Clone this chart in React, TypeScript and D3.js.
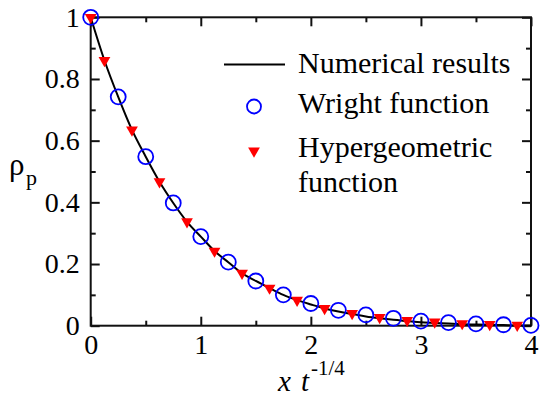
import React, { useEffect, useRef } from 'react';
import * as d3 from 'd3';

// numerical results (black line)
const lineX = [0, 0.125, 0.25, 0.375, 0.5, 0.625, 0.75, 0.875, 1, 1.125, 1.25, 1.375, 1.5, 1.625, 1.75, 1.875, 2,
  2.125, 2.25, 2.375, 2.5, 2.625, 2.75, 2.875, 3, 3.125, 3.25, 3.375, 3.5, 3.625, 3.75, 3.875, 4];
const lineY = [1.0, 0.86, 0.742, 0.635, 0.548, 0.467, 0.398, 0.337, 0.289, 0.242, 0.206, 0.17, 0.145, 0.122, 0.1,
  0.083, 0.069, 0.056, 0.046, 0.038, 0.03, 0.024, 0.019, 0.015, 0.011, 0.009, 0.007, 0.005, 0.004, 0.003, 0.002, 0.001, 0.001];

// Wright function (blue circles)
const wrightX = [0, 0.25, 0.5, 0.75, 1, 1.25, 1.5, 1.75, 2, 2.25, 2.5, 2.75, 3, 3.25, 3.5, 3.75, 4];
const wrightY = [1.0, 0.742, 0.548, 0.398, 0.289, 0.206, 0.145, 0.1, 0.072, 0.05, 0.035, 0.024, 0.015, 0.01, 0.006, 0.003, 0.001];

// Hypergeometric function (red triangles)
const hyperX = [0, 0.125, 0.375, 0.625, 0.875, 1.125, 1.375, 1.625, 1.875, 2.125, 2.375, 2.625, 2.875, 3.125, 3.375, 3.625, 3.875];
const hyperY = [1.0, 0.86, 0.635, 0.467, 0.337, 0.242, 0.17, 0.122, 0.083, 0.056, 0.04, 0.027, 0.017, 0.012, 0.007, 0.004, 0.002];

const xMajor = [0, 1, 2, 3, 4];
const xMinor = [0.5, 1.5, 2.5, 3.5];
const yMajor = [0, 0.2, 0.4, 0.6, 0.8, 1];
const yMinor = [0.1, 0.3, 0.5, 0.7, 0.9];

const legendItems = ['Numerical results', 'Wright function', 'Hypergeometric', 'function'];

const FONT = 'Liberation Serif, Times New Roman, serif';

const App = () => {
  const ref = useRef<SVGSVGElement>(null);

  useEffect(() => {
    const svg = d3.select(ref.current);
    svg.selectAll('*').remove();

    const x = d3.scaleLinear().domain([0, 4]).range([90.7, 531]);
    const y = d3.scaleLinear().domain([0, 1]).range([325.7, 17.3]);
    const [x0, x1] = x.range();
    const [y0, y1] = y.range();

    const tri = d3.symbol().type(d3.symbolTriangle).size(60);

    // axes - ticks point inward
    const styleAxis = (g: any) => {
      g.attr('font-family', FONT).attr('font-size', 28);
      g.select('.domain').remove();
      g.selectAll('line').attr('stroke', '#111').attr('stroke-width', 2);
      g.selectAll('text').style('font-family', FONT).style('font-size', '28px').attr('fill', '#000');
    };

    svg.append('g').attr('transform', `translate(0,${y0})`)
      .call(d3.axisBottom(x).tickValues(xMajor).tickSize(-9).tickFormat(d3.format('d')))
      .call(styleAxis)
      .selectAll('text').attr('y', 28.5).attr('dy', null);
    svg.append('g').attr('transform', `translate(0,${y0})`)
      .call(d3.axisBottom(x).tickValues(xMinor).tickSize(-5).tickFormat(() => ''))
      .call(styleAxis);
    svg.append('g').attr('transform', `translate(0,${y1})`)
      .call(d3.axisTop(x).tickValues(xMajor).tickSize(-9).tickFormat(() => ''))
      .call(styleAxis);
    svg.append('g').attr('transform', `translate(0,${y1})`)
      .call(d3.axisTop(x).tickValues(xMinor).tickSize(-5).tickFormat(() => ''))
      .call(styleAxis);

    svg.append('g').attr('transform', `translate(${x0},0)`)
      .call(d3.axisLeft(y).tickValues(yMajor).tickSize(-9).tickPadding(11).tickFormat((d: any) => (d === 0 || d === 1 ? d3.format('d')(d) : d3.format('.1f')(d))))
      .call(styleAxis);
    svg.append('g').attr('transform', `translate(${x0},0)`)
      .call(d3.axisLeft(y).tickValues(yMinor).tickSize(-5).tickFormat(() => ''))
      .call(styleAxis);
    svg.append('g').attr('transform', `translate(${x1},0)`)
      .call(d3.axisRight(y).tickValues(yMajor).tickSize(-9).tickFormat(() => ''))
      .call(styleAxis);
    svg.append('g').attr('transform', `translate(${x1},0)`)
      .call(d3.axisRight(y).tickValues(yMinor).tickSize(-5).tickFormat(() => ''))
      .call(styleAxis);

    // frame
    svg.append('rect')
      .attr('x', x0).attr('y', y1).attr('width', x1 - x0).attr('height', y0 - y1)
      .attr('fill', 'none').attr('stroke', '#111').attr('stroke-width', 2);

    // numerical line
    const line = d3.line<number>().x((d, i) => x(lineX[i])).y((d) => y(d)).curve(d3.curveMonotoneX);
    svg.append('path').datum(lineY).attr('d', line)
      .attr('fill', 'none').attr('stroke', '#000').attr('stroke-width', 2);

    // wright circles
    svg.append('g').selectAll('circle').data(wrightY).enter().append('circle')
      .attr('cx', (d, i) => x(wrightX[i])).attr('cy', (d) => y(d)).attr('r', 7.5)
      .attr('fill', 'none').attr('stroke', '#0000ff').attr('stroke-width', 1.8);

    // hypergeometric triangles (pointing down)
    svg.append('g').selectAll('path').data(hyperY).enter().append('path')
      .attr('d', tri)
      .attr('transform', (d, i) => `translate(${x(hyperX[i])},${y(d)}) rotate(180)`)
      .attr('fill', '#ff0000');

    // legend
    svg.append('line').attr('x1', 224).attr('x2', 285).attr('y1', 64.5).attr('y2', 64.5)
      .attr('stroke', '#000').attr('stroke-width', 2);
    svg.append('circle').attr('cx', 254).attr('cy', 106.5).attr('r', 7)
      .attr('fill', 'none').attr('stroke', '#0000ff').attr('stroke-width', 1.8);
    svg.append('path').attr('d', tri).attr('transform', 'translate(254,151) rotate(180)').attr('fill', '#ff0000');

    const legendY = [73, 113, 157, 192];
    svg.append('g').selectAll('text').data(legendItems).enter().append('text')
      .text((d) => d)
      .attr('x', 298).attr('y', (d, i) => legendY[i])
      .attr('font-family', FONT).attr('font-size', 30).attr('fill', '#000');

    // y label
    const yl = svg.append('text').attr('font-family', FONT).attr('fill', '#000');
    yl.append('tspan').attr('x', 9).attr('y', 175).attr('font-size', 31).text('ρ');
    yl.append('tspan').attr('x', 26).attr('y', 185).attr('font-size', 22).text('p');

    // x label
    const xl = svg.append('text').attr('font-family', FONT).attr('fill', '#000');
    xl.append('tspan').attr('x', 278).attr('y', 391).attr('font-size', 29).attr('font-style', 'italic').text('x');
    xl.append('tspan').attr('x', 301).attr('y', 391).attr('font-size', 29).attr('font-style', 'italic').text('t');
    xl.append('tspan').attr('x', 311).attr('y', 375).attr('font-size', 21).text('-1/4');
  }, []);

  return (
    <svg ref={ref} width={541} height={398} style={{ position: 'absolute', left: 0, top: 0, background: '#fff' }} />
  );
};

export default App;
